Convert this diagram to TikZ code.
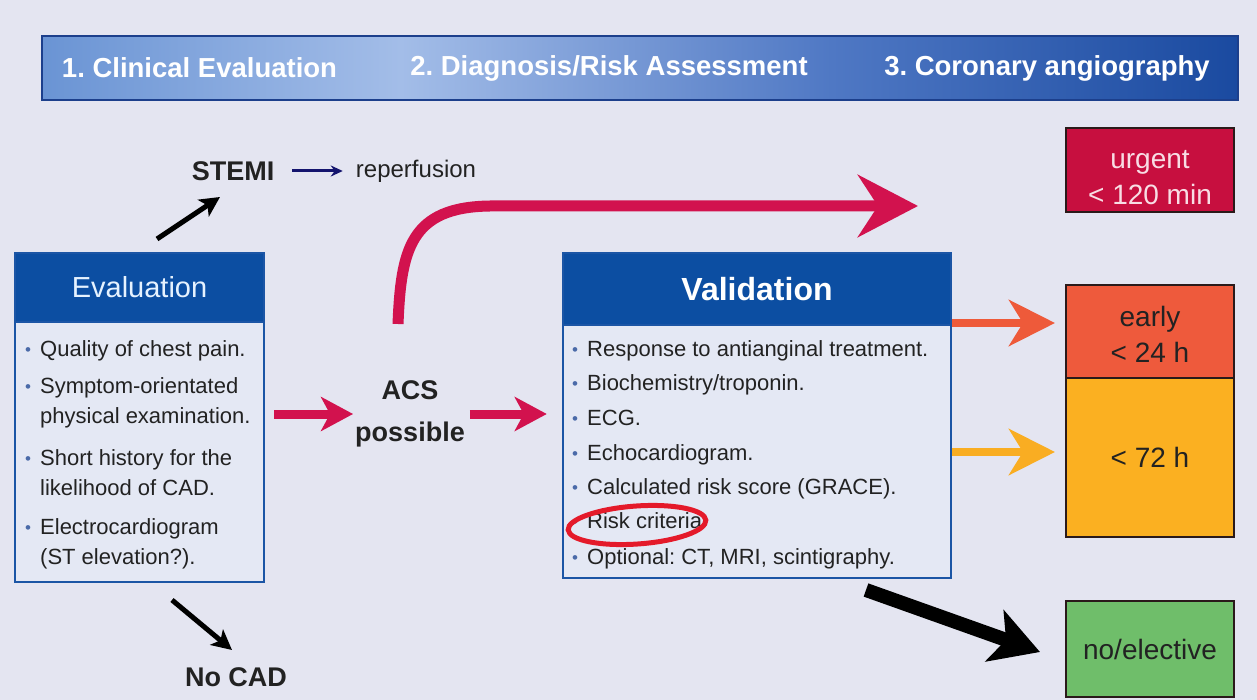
\documentclass[tikz,border=0pt]{standalone}
\usepackage{fontspec}
\setmainfont{Liberation Sans}
\usetikzlibrary{arrows.meta}
\frenchspacing
\definecolor{bg}{HTML}{E4E5F1}
\definecolor{barA}{HTML}{6A94D4}
\definecolor{barB}{HTML}{A3BDE8}
\definecolor{barC}{HTML}{4F78C4}
\definecolor{barD}{HTML}{1A4AA0}
\definecolor{barborder}{HTML}{1C3F8C}
\definecolor{headblue}{HTML}{0C4EA2}
\definecolor{boxborder}{HTML}{1B55A5}
\definecolor{bodyfill}{HTML}{E4E8F4}
\definecolor{textc}{HTML}{222222}
\definecolor{bulc}{HTML}{4A6AA8}
\definecolor{redc}{HTML}{D2124E}
\definecolor{orangec}{HTML}{EE5A3A}
\definecolor{yellowc}{HTML}{F9AD22}
\definecolor{urgentc}{HTML}{C70F3F}
\definecolor{earlyc}{HTML}{EE5A3C}
\definecolor{latec}{HTML}{FBB021}
\definecolor{electc}{HTML}{6FBE6A}
\definecolor{rboxborder}{HTML}{2A1A1A}
\definecolor{ellc}{HTML}{E41A2A}
\definecolor{navyc}{HTML}{14146E}
\definecolor{urgtext}{HTML}{F8DDE4}
\definecolor{evhead}{HTML}{E6F2FF}
\pgfdeclarehorizontalshading{barshade}{100bp}{color(0bp)=(barA); color(25bp)=(barA); color(40bp)=(barB); color(58bp)=(barC); color(75bp)=(barD); color(100bp)=(barD)}
\newcommand{\bul}{\makebox[15pt][l]{\color{bulc}\fontsize{17pt}{17pt}\selectfont\raisebox{0.5pt}{•}}}
\begin{document}
\begin{tikzpicture}[x=1pt,y=-1pt,
  bartext/.style={text=white,font=\fontsize{27.5pt}{30pt}\selectfont\bfseries,inner sep=0pt},
  boxbody/.style={draw=boxborder,line width=2.5pt,fill=bodyfill,inner sep=0pt},
  boxhead/.style={draw=boxborder,line width=2.5pt,fill=headblue,inner sep=0pt,anchor=north},
  item/.style={anchor=west,inner sep=0pt,text=textc,font=\fontsize{22pt}{26pt}\selectfont,text height=16pt,text depth=4pt},
  rbox/.style={draw=rboxborder,line width=2pt,inner sep=0pt,minimum width=168pt,align=center,font=\fontsize{28pt}{36pt}\selectfont},
  rtext/.style={inner sep=0pt,align=center,font=\fontsize{28pt}{36pt}\selectfont},
  lbl/.style={inner sep=0pt,text=textc,align=center},
  redarr/.style={draw=redc,line width=9pt,-{Stealth[length=32pt,width=34pt,inset=9pt]}},
  curvearr/.style={draw=redc,line width=11pt,-{Stealth[length=60pt,width=62pt,inset=20pt]}},
  sidearr/.style={line width=8pt,-{Stealth[length=46pt,width=46pt,inset=14pt]}},
  blackarr/.style={draw=black,line width=5pt,-{Stealth[length=20pt,width=20pt,inset=5pt]}},
  bigblack/.style={draw=black,line width=14pt,-{Stealth[length=48pt,width=54pt,inset=12pt]}}
]
\useasboundingbox[fill=bg] (0,0) rectangle (1257,700);

% header bar
\node[draw=barborder,line width=2pt,shading=barshade,minimum width=1196pt,minimum height=64pt,inner sep=0pt] (bar) at (640,68) {};
\node[bartext] (h1) at (199.5,68) {1. Clinical Evaluation};
\node[bartext] (h2) at (609,68) {2. Diagnosis/Risk Assessment};
\node[bartext] (h3) at (1047,68) {3. Coronary angiography};

% evaluation box
\node[boxbody,minimum width=249pt,minimum height=329pt] (eval) at (139.5,417.5) {};
\node[boxhead,minimum width=249pt,minimum height=69pt,text=evhead,font=\fontsize{29pt}{32pt}\selectfont] (evalhead) at (eval.north) {Evaluation};
\node[item] (e1) at (25,350) {\bul Quality of chest pain.};
\node[item] (e2) at (25,387) {\bul Symptom-orientated};
\node[item] (e3) at (40,417) {physical examination.};
\node[item] (e4) at (25,459) {\bul Short history for the};
\node[item] (e5) at (40,489) {likelihood of CAD.};
\node[item] (e6) at (25,528) {\bul Electrocardiogram};
\node[item] (e7) at (40,558) {(ST elevation?).};

% validation box
\node[boxbody,minimum width=388pt,minimum height=325pt] (valid) at (757,415.5) {};
\node[boxhead,minimum width=388pt,minimum height=72pt,text=white,font=\fontsize{32pt}{34pt}\selectfont\bfseries] (validhead) at (valid.north) {Validation};
\node[item] (v1) at (572,350) {\bul Response to antianginal treatment.};
\node[item] (v2) at (572,384) {\bul Biochemistry/troponin.};
\node[item] (v3) at (572,419) {\bul ECG.};
\node[item] (v4) at (572,454) {\bul Echocardiogram.};
\node[item] (v5) at (572,488) {\bul Calculated risk score (GRACE).};
\node[item] (v6) at (572,522) {\bul Risk criteria};
\node[item] (v7) at (572,558) {\bul Optional: CT, MRI, scintigraphy.};
\draw[ellc,line width=5pt,rotate around={4:(637,525)}] (637,525) ellipse [x radius=69, y radius=19];

% labels
\node[lbl,font=\fontsize{27pt}{42pt}\selectfont\bfseries] (acs) at (410,414) {ACS\\possible};
\node[lbl,font=\fontsize{27pt}{30pt}\selectfont\bfseries] (stemi) at (233,171) {STEMI};
\node[lbl,font=\fontsize{24pt}{28pt}\selectfont] (reperf) at (416,171) {reperfusion};
\node[lbl,font=\fontsize{27pt}{30pt}\selectfont\bfseries] (nocad) at (236,677) {No CAD};

% right boxes
\node[rbox,fill=urgentc,minimum height=84pt] (urgent) at (1150,170) {};
\node[rtext,text=urgtext] (urgentlbl) at ([yshift=-8pt]urgent.center) {urgent\\< 120 min};
\node[rbox,fill=earlyc,text=textc,minimum height=93pt] (early) at (1150,331.5) {};
\node[rtext,text=textc] (earlylbl) at ([yshift=-3pt]early.center) {early\\< 24 h};
\node[rbox,fill=latec,text=textc,minimum height=159pt] (late) at (1150,457.5) {< 72 h};
\node[rbox,fill=electc,text=textc,minimum height=96pt] (elective) at (1150,649) {no/elective};

% connectors
\draw[redarr,shorten <=9pt,shorten >=2pt] (acs.west -| eval.east) -- (acs.west);
\draw[redarr,shorten <=5pt,shorten >=15pt] (acs.east) -- (acs.east -| valid.west);
\coordinate (cs) at (398,324);
\coordinate (ce) at (918,206);
\draw[curvearr] (cs) .. controls (401,250) and (410,207) .. (490,206) -- (ce);
\draw[sidearr,draw=orangec,shorten >=10pt] ([yshift=8.5pt]early.west -| valid.east) -- ([yshift=8.5pt]early.west);
\draw[sidearr,draw=yellowc,shorten >=10pt] ([yshift=5.5pt]late.west -| valid.east) -- ([yshift=5.5pt]late.west);
\draw[navyc,line width=3pt,-{Stealth[length=12pt,width=11pt]},shorten <=18pt,shorten >=13pt] (stemi.east) -- (reperf.west);
\coordinate (s1) at (157,239);
\coordinate (s2) at (220,197);
\draw[blackarr] (s1) -- (s2);
\coordinate (n1) at (172,600);
\coordinate (n2) at (232,650);
\draw[blackarr] (n1) -- (n2);
\coordinate (b1) at (866,590);
\coordinate (b2) at (1040,652);
\draw[bigblack] (b1) -- (b2);
\end{tikzpicture}
\end{document}
